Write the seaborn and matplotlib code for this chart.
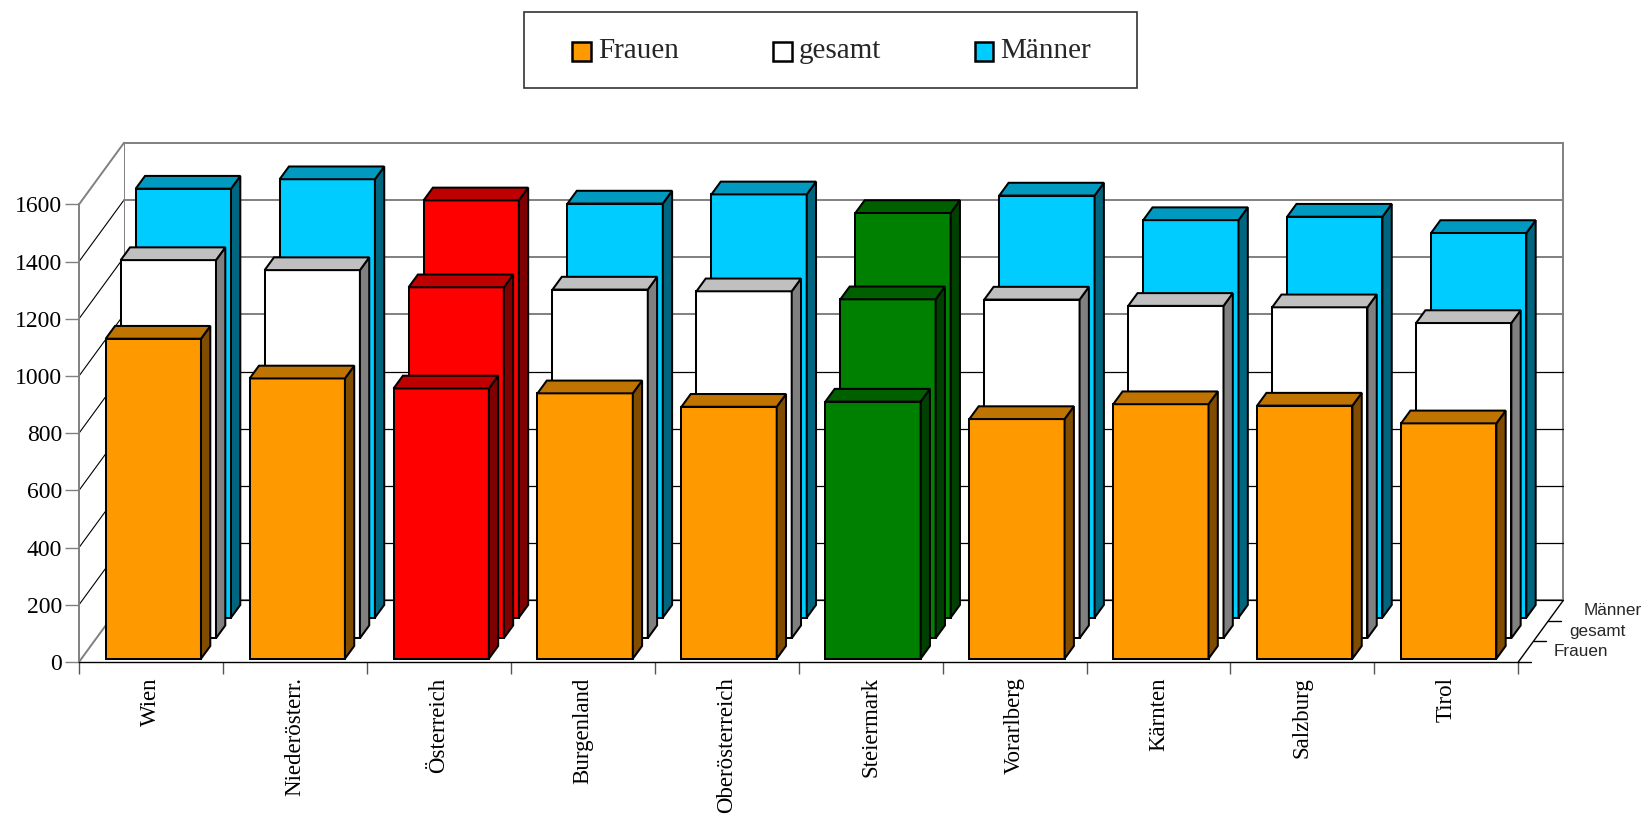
import numpy as np
import pandas as pd
import matplotlib
matplotlib.use("Agg")
import matplotlib.pyplot as plt
import seaborn as sns
from matplotlib.patches import Polygon, Rectangle
from matplotlib.lines import Line2D
from matplotlib.transforms import Affine2D

# ---- data -------------------------------------------------------------
regions = ["Wien", "Niederösterr.", "Österreich", "Burgenland", "Oberösterreich",
           "Steiermark", "Vorarlberg", "Kärnten", "Salzburg", "Tirol"]
frauen = [1119, 980, 945, 928, 881, 899, 838, 890, 885, 823]
gesamt = [1322, 1287, 1227, 1219, 1213, 1185, 1184, 1162, 1157, 1102]
maenner = [1500, 1533, 1459, 1448, 1480, 1415, 1476, 1390, 1402, 1345]
series = ["Frauen", "gesamt", "Männer"]
y_ticks = [0, 200, 400, 600, 800, 1000, 1200, 1400, 1600]

# face colours (front, top, side) per series and for highlighted regions
series_colors = {
    "Frauen": ("#FF9900", "#BF7300", "#7F4C00"),
    "gesamt": ("#FFFFFF", "#C0C0C0", "#808080"),
    "Männer": ("#00CCFF", "#0099BF", "#00667F"),
}
highlight_colors = {
    "Österreich": ("#FF0000", "#BF0000", "#7F0000"),
    "Steiermark": ("#008000", "#006000", "#004000"),
}

df = pd.DataFrame({
    "region": regions * 3,
    "series": np.repeat(series, len(regions)),
    "value": frauen + gesamt + maenner,
})

# ---- figure / front plane -------------------------------------------
sns.set_theme(style="white")
plt.rcParams["font.family"] = ["Liberation Serif", "DejaVu Serif"]

W, H = 1647, 818
fig = plt.figure(figsize=(W / 100, H / 100), dpi=100)
fig.patch.set_facecolor("white")

fx0, fx1 = 79.0, 1518.3      # left/right of the front plane (px)
fy0, fy1 = 662.0, 204.4      # rows of value 0 and 1600 on the front plane (px)
ax = fig.add_axes([fx0 / W, 1 - fy0 / H, (fx1 - fx0) / W, (fy0 - fy1) / H])
ax.set_facecolor("white")

n = len(regions)
ymax = y_ticks[-1]
px_per_cat = (fx1 - fx0) / n
px_per_val = (fy0 - fy1) / ymax
# oblique depth of the whole box, in data units
DX = 45.0 / px_per_cat
DY = 61.6 / px_per_val

GRAY = "#808080"
EDGE_LW = 1.45
xl, xr = -0.5, n - 0.5

# ---- walls and grid --------------------------------------------------
ax.add_patch(Rectangle((xl + DX, DY), n, ymax, facecolor="white",
                       edgecolor=GRAY, linewidth=1.4, zorder=0.5, clip_on=False))
ax.add_patch(Polygon([(xl, 0), (xl, ymax), (xl + DX, ymax + DY), (xl + DX, DY)],
                     closed=True, facecolor="white", edgecolor="none",
                     zorder=0.5, clip_on=False))
for v in y_ticks:
    edge = v in (0, ymax)
    ax.add_line(Line2D([xl, xl + DX], [v, v + DY],
                       color=GRAY if edge else "black",
                       linewidth=1.4 if edge else 0.8, zorder=0.6, clip_on=False))
    if v < ymax:
        ax.add_line(Line2D([xl + DX, xr + DX], [v + DY, v + DY],
                           color=GRAY if v >= 1000 else "black",
                           linewidth=1.4 if v >= 1000 else 0.9,
                           zorder=0.6, clip_on=False))
# floor right edge
ax.add_line(Line2D([xr, xr + DX], [0, DY], color="black", linewidth=1.0,
                   zorder=0.6, clip_on=False))

# ---- 3D bars -------------------------------------------------------
row_index = {"Frauen": 0, "gesamt": 1, "Männer": 2}
bar_width = 0.662
bar_depth = 0.207

for s in ["Männer", "gesamt", "Frauen"]:
    r = row_index[s]
    f = r / 3 + 0.053
    shift = Affine2D().translate(f * DX, f * DY) + ax.transData
    pal = {reg: highlight_colors.get(reg, series_colors[s])[0] for reg in regions}
    z = 4 - r
    n0 = len(ax.patches)
    sns.barplot(data=df[df["series"] == s], x="region", y="value",
                hue="region", order=regions, hue_order=regions, palette=pal,
                saturation=1, width=bar_width, errorbar=None, legend=False,
                edgecolor="black", linewidth=EDGE_LW, zorder=z, ax=ax)
    bdx, bdy = bar_depth * DX, bar_depth * DY
    for p in list(ax.patches[n0:]):
        p.set_transform(shift)
        p.set_clip_on(False)
        p.set_joinstyle("miter")
        x, w, h = p.get_x(), p.get_width(), p.get_height()
        reg = regions[int(round(x + w / 2))]
        _, top_c, side_c = highlight_colors.get(reg, series_colors[s])
        top = Polygon([(x, h), (x + w, h), (x + w + bdx, h + bdy), (x + bdx, h + bdy)],
                      closed=True, facecolor=top_c, edgecolor="black",
                      linewidth=EDGE_LW, joinstyle="miter", zorder=z,
                      clip_on=False, transform=shift)
        side = Polygon([(x + w, 0), (x + w, h), (x + w + bdx, h + bdy), (x + w + bdx, bdy)],
                       closed=True, facecolor=side_c, edgecolor="black",
                       linewidth=EDGE_LW, joinstyle="miter", zorder=z,
                       clip_on=False, transform=shift)
        ax.add_patch(side)
        ax.add_patch(top)

# ---- axes, ticks, labels -------------------------------------------
ax.set_xlim(xl, xr)
ax.set_ylim(0, ymax)
ax.set_xlabel("")
ax.set_ylabel("")
for side_name in ("top", "right"):
    ax.spines[side_name].set_visible(False)
ax.spines["left"].set_color(GRAY)
ax.spines["left"].set_linewidth(1.4)
ax.spines["bottom"].set_color("black")
ax.spines["bottom"].set_linewidth(1.0)
ax.spines["left"].set_zorder(0.7)

ax.set_yticks(y_ticks)
ax.set_yticklabels([str(v) for v in y_ticks])
ax.tick_params(axis="y", which="major", left=True, length=10, width=1.0,
               color=GRAY, labelsize=17, pad=2, labelcolor="black")

ax.set_xticks(np.arange(xl, xr + 0.01, 1.0))
ax.set_xticklabels([])
ax.set_xticks(np.arange(n), minor=True)
ax.set_xticklabels(regions, minor=True, rotation=90, fontsize=16.5)
ax.tick_params(axis="x", which="major", bottom=True, length=8.5, width=1.0, color="#555555")
ax.tick_params(axis="x", which="minor", bottom=True, length=0, pad=11, labelcolor="black")

# depth axis with series names
ax.add_line(Line2D([xr, xr + 0.09], [0, 0], color="black", linewidth=1.0, clip_on=False))
for k in (1, 2):
    fk = k / 3
    ax.add_line(Line2D([xr + fk * DX, xr + fk * DX + 0.09], [fk * DY, fk * DY],
                       color="black", linewidth=1.0, clip_on=False))
for s in series:
    fc = (row_index[s] + 0.5) / 3
    ax.text(xr + fc * DX + 28 / px_per_cat, fc * DY, s, ha="left", va="center",
            fontsize=12.3, family=["Liberation Sans", "DejaVu Sans"], clip_on=False)

# ---- legend box ------------------------------------------------------
def fpos(x, y):
    return (x / W, 1 - y / H)

fig.add_artist(Rectangle(fpos(524, 88), (1137 - 524) / W, (88 - 12) / H,
                         transform=fig.transFigure, facecolor="white",
                         edgecolor="#333333", linewidth=1.2))
legend_items = [("Frauen", 572.0), ("gesamt", 773.0), ("Männer", 974.5)]
for name, lx in legend_items:
    fig.add_artist(Rectangle(fpos(lx, 60.5), 19 / W, 19 / H, transform=fig.transFigure,
                             facecolor=series_colors[name][0], edgecolor="black",
                             linewidth=1.8))
    fig.text(*fpos(lx + 26, 51.5), name, ha="left", va="center", fontsize=21)

fig.savefig("out.png", dpi=100, facecolor="white")
